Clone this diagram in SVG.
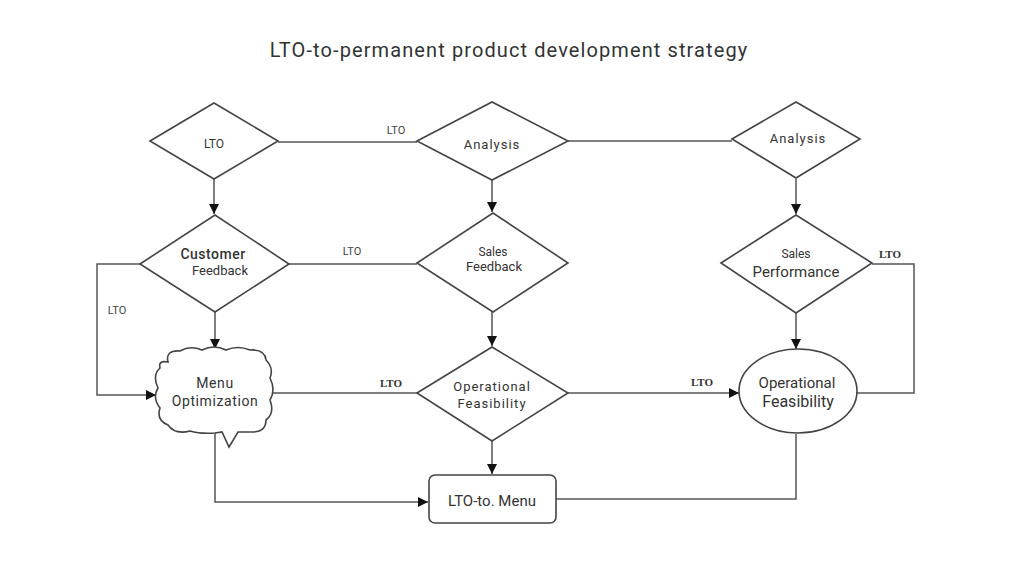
<svg xmlns="http://www.w3.org/2000/svg" width="1024" height="579" viewBox="0 0 1024 579">
<defs>
<marker id="arr" viewBox="0 0 10 10" refX="10" refY="5" markerWidth="10" markerHeight="10" markerUnits="userSpaceOnUse" orient="auto">
<path d="M0,0 L10,5 L0,10 Z" fill="#111"/>
</marker>
<style>
.shape{fill:#fff;stroke:#444;stroke-width:1.6}
.conn{fill:none;stroke:#555;stroke-width:1.5}
.t{font-family:Roboto,"Open Sans",sans-serif;text-anchor:middle;fill:#333}
.lbl{font-family:Roboto,"Open Sans",sans-serif;font-size:11px;fill:#444;text-anchor:middle}
.slbl{font-family:"Liberation Serif",serif;font-size:11px;fill:#333;text-anchor:middle;font-weight:bold}
</style>
</defs>
<rect width="1024" height="579" fill="#fff"/>
<text class="t" x="509" y="57" font-size="20" letter-spacing="1.1" fill="#333">LTO-to-permanent product development strategy</text>

<g id="connectors">
<path class="conn" d="M278,142 H417"/>
<path class="conn" d="M568,141 H732"/>
<path class="conn" d="M214,179 V214" marker-end="url(#arr)"/>
<path class="conn" d="M492,180 V212" marker-end="url(#arr)"/>
<path class="conn" d="M796,179 V214" marker-end="url(#arr)"/>
<path class="conn" d="M289,264 H417"/>
<path class="conn" d="M140,264 H97 V395 H156" marker-end="url(#arr)"/>
<path class="conn" d="M872,264 H914 V393 H857"/>
<path class="conn" d="M215,312 V349" marker-end="url(#arr)"/>
<path class="conn" d="M492,312 V346" marker-end="url(#arr)"/>
<path class="conn" d="M796,313 V349" marker-end="url(#arr)"/>
<path class="conn" d="M273,393 H417"/>
<path class="conn" d="M568,393 H739" marker-end="url(#arr)"/>
<path class="conn" d="M492,441 V474" marker-end="url(#arr)"/>
<path class="conn" d="M215,433 V502 H428" marker-end="url(#arr)"/>
<path class="conn" d="M556,499 H796 V434"/>
<text class="lbl" x="396" y="134">LTO</text>
<text class="lbl" x="352" y="255">LTO</text>
<text class="lbl" x="117" y="314">LTO</text>
<text class="slbl" x="391" y="387">LTO</text>
<text class="slbl" x="702" y="386">LTO</text>
<text class="slbl" x="890" y="258">LTO</text>
</g>

<g id="lto">
<polygon class="shape" points="150,141 214,103 278,141 214,179"/>
<text class="t" x="214" y="148" font-size="12" fill="#444">LTO</text>
</g>
<g id="analysis1">
<polygon class="shape" points="417,141 492,102 568,141 492,180"/>
<text class="t" x="492" y="149" font-size="13" letter-spacing="1" fill="#444">Analysis</text>
</g>
<g id="analysis2">
<polygon class="shape" points="732,139 796,102 860,139 796,178"/>
<text class="t" x="798" y="143" font-size="13" letter-spacing="1" fill="#444">Analysis</text>
</g>
<g id="customer-feedback">
<polygon class="shape" points="140,264 215,215 289,264 215,312"/>
<text class="t" x="213" y="259" font-size="14" font-weight="500" letter-spacing="0.5" fill="#333">Customer</text>
<text class="t" x="220" y="275" font-size="13" fill="#777">Feedback</text>
</g>
<g id="sales-feedback">
<polygon class="shape" points="417,263 493,213 568,263 493,312"/>
<text class="t" x="493" y="256" font-size="12" fill="#777">Sales</text>
<text class="t" x="494" y="271" font-size="13" fill="#777">Feedback</text>
</g>
<g id="sales-performance">
<polygon class="shape" points="721,263 796,215 872,263 796,313"/>
<text class="t" x="796" y="258" font-size="12" fill="#666">Sales</text>
<text class="t" x="796" y="277" font-size="15" fill="#444">Performance</text>
</g>
<g id="menu-optimization">
<path class="shape" d="M168,362 Q165,350 180,351 Q190,345 202,350 Q214,344 226,350 Q238,345 250,350 Q265,349 266,360 Q274,368 270,378 Q276,390 270,400 Q275,413 266,420 Q266,432 252,432 L238,432 L229,447 L222,432 L215,433 Q200,434 190,431 Q175,435 168,425 Q156,420 160,408 Q152,398 158,388 Q152,375 160,368 Q158,360 168,362 Z"/>
<text class="t" x="215" y="388" font-size="14" letter-spacing="0.6" fill="#333">Menu</text>
<text class="t" x="215" y="406" font-size="14" letter-spacing="0.6" fill="#333">Optimization</text>
</g>
<g id="operational-feasibility">
<polygon class="shape" points="417,393 492,347 568,393 492,441"/>
<text class="t" x="492" y="391" font-size="13" letter-spacing="1" fill="#333">Operational</text>
<text class="t" x="492" y="408" font-size="13" letter-spacing="1" fill="#333">Feasibility</text>
</g>
<g id="operational-feasibility-2">
<ellipse class="shape" cx="798" cy="391" rx="59" ry="42"/>
<text class="t" x="797" y="388" font-size="15" fill="#777">Operational</text>
<text class="t" x="798" y="407" font-size="16" fill="#333">Feasibility</text>
</g>
<g id="lto-to-menu">
<rect class="shape" x="429" y="475" width="127" height="48" rx="6"/>
<text class="t" x="492" y="506" font-size="15" fill="#333">LTO-to. Menu</text>
</g>
</svg>
